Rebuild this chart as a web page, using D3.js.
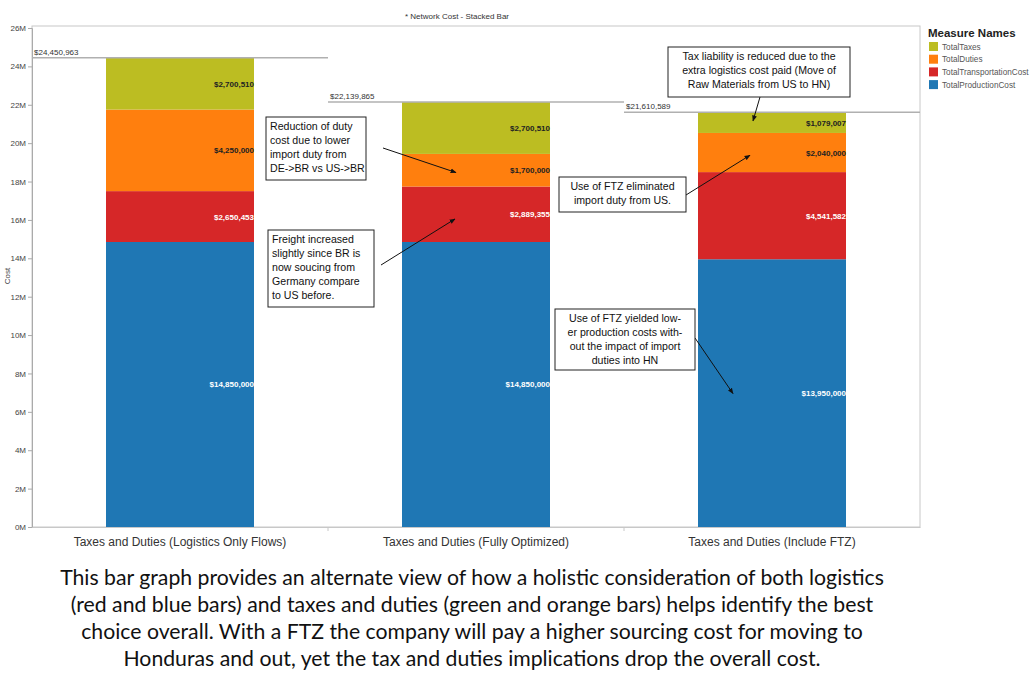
<!DOCTYPE html>
<html>
<head>
<meta charset="utf-8">
<script src="https://cdn.jsdelivr.net/npm/d3@7"></script>
<style>
  body { margin: 0; background: #fff; }
  svg { display: block; font-family: "Liberation Sans", Arial, sans-serif; }
</style>
</head>
<body>
<svg id="chart" width="1030" height="689"></svg>
<script>
// data
const categories = [
  "Taxes and Duties (Logistics Only Flows)",
  "Taxes and Duties (Fully Optimized)",
  "Taxes and Duties (Include FTZ)"
];
const measures = ["TotalProductionCost", "TotalTransportationCost", "TotalDuties", "TotalTaxes"];
const legendOrder = ["TotalTaxes", "TotalDuties", "TotalTransportationCost", "TotalProductionCost"];
const productionCost = [14850000, 14850000, 13950000];
const transportationCost = [2650453, 2889355, 4541582];
const duties = [4250000, 1700000, 2040000];
const taxes = [2700510, 2700510, 1079007];
const yTicks = [0, 2e6, 4e6, 6e6, 8e6, 10e6, 12e6, 14e6, 16e6, 18e6, 20e6, 22e6, 24e6, 26e6];
const colors = {
  TotalTaxes: "#bcbd22",
  TotalDuties: "#ff7f0e",
  TotalTransportationCost: "#d62728",
  TotalProductionCost: "#1f77b4"
};
const labelColors = {
  TotalTaxes: "#222",
  TotalDuties: "#222",
  TotalTransportationCost: "#fff",
  TotalProductionCost: "#fff"
};

const notes = [
  { lines: ["Reduction of duty", "cost due to lower", "import duty from", "DE->BR vs US->BR"],
    align: "start", box: [266, 117, 100, 63], from: [383, 148], cat: 1, value: 18.47e6, dx: -20 },
  { lines: ["Freight increased", "slightly since BR is", "now soucing from", "Germany compare", "to US before."],
    align: "start", box: [268, 230, 106, 77], from: [381, 265], cat: 1, value: 16.05e6, dx: -21 },
  { lines: ["Use of FTZ eliminated", "import duty from US."],
    align: "middle", box: [559, 177, 127, 35], from: [686, 195], cat: 2, value: 19.37e6, dx: -22 },
  { lines: ["Tax liability is reduced due to the", "extra logistics cost paid (Move of", "Raw Materials from US to HN)"],
    align: "middle", box: [668, 47, 182, 50], from: [760, 97], cat: 2, value: 21.16e6, dx: -19 },
  { lines: ["Use of FTZ yielded low-", "er production costs with-", "out the impact of import", "duties into HN"],
    align: "middle", box: [555, 309, 140, 61], from: [695, 338], cat: 2, value: 6.95e6, dx: -39 }
];

const caption = [
  "This bar graph provides an alternate view of how a holistic consideration of both logistics",
  "(red and blue bars) and taxes and duties (green and orange bars) helps identify the best",
  "choice overall. With a FTZ the company will pay a higher sourcing cost for moving to",
  "Honduras and out, yet the tax and duties implications drop the overall cost."
];

const series = {
  TotalProductionCost: productionCost,
  TotalTransportationCost: transportationCost,
  TotalDuties: duties,
  TotalTaxes: taxes
};
const rows = categories.map((c, i) => {
  const r = { category: c };
  measures.forEach(k => r[k] = series[k][i]);
  return r;
});

const svg = d3.select("#chart");
const m = { left: 32, right: 920, top: 26, bottom: 527 };

const x = d3.scaleBand().domain(categories).range([m.left, m.right]).padding(0);
const y = d3.scaleLinear().domain([0, 26e6]).range([m.bottom, 28]);
const barW = x.bandwidth() * 0.5;
const fmt = d3.format("$,");

// frame
svg.append("rect")
  .attr("x", m.left).attr("y", m.top)
  .attr("width", m.right - m.left).attr("height", m.bottom - m.top)
  .attr("fill", "none").attr("stroke", "#c8c8c8").attr("stroke-width", 1);

// title
svg.append("text")
  .attr("x", 405).attr("y", 19)
  .attr("font-size", 8).attr("fill", "#333")
  .text("* Network Cost - Stacked Bar");

// y axis
const yAxis = svg.append("g")
  .attr("transform", `translate(${m.left},0)`)
  .call(d3.axisLeft(y).tickValues(yTicks).tickSize(4).tickPadding(2)
    .tickFormat(d => (d / 1e6) + "M"));
yAxis.select(".domain").attr("stroke", "#aaa");
yAxis.selectAll(".tick line").attr("stroke", "#aaa");
yAxis.selectAll(".tick text")
  .attr("font-size", 8).attr("fill", "#444")
  .attr("font-family", "Liberation Sans, Arial, sans-serif");

svg.append("text")
  .attr("transform", "translate(10,276) rotate(-90)")
  .attr("text-anchor", "middle")
  .attr("font-size", 8).attr("fill", "#444")
  .text("Cost");

// x axis
const xAxis = svg.append("g")
  .attr("transform", `translate(0,${m.bottom})`)
  .call(d3.axisBottom(x).tickSize(0).tickPadding(10));
xAxis.select(".domain").attr("stroke", "#c8c8c8");
xAxis.selectAll(".tick text")
  .attr("font-size", 12).attr("fill", "#333")
  .attr("font-family", "Liberation Sans, Arial, sans-serif");
// band separators ticks
svg.selectAll(".sep")
  .data(categories.slice(1))
  .enter().append("line")
  .attr("x1", d => x(d)).attr("x2", d => x(d))
  .attr("y1", m.bottom).attr("y2", m.bottom + 4)
  .attr("stroke", "#c8c8c8");

// stacks
const stack = d3.stack().keys(measures)(rows);
const layers = svg.append("g").selectAll("g")
  .data(stack)
  .enter().append("g")
  .attr("fill", d => colors[d.key]);

layers.selectAll("rect")
  .data(d => d)
  .enter().append("rect")
  .attr("x", d => x(d.data.category) + (x.bandwidth() - barW) / 2)
  .attr("width", barW)
  .attr("y", d => y(d[1]))
  .attr("height", d => y(d[0]) - y(d[1]));

// segment labels
stack.forEach(layer => {
  svg.append("g").selectAll("text")
    .data(layer)
    .enter().append("text")
    .attr("x", d => x(d.data.category) + (x.bandwidth() + barW) / 2)
    .attr("y", d => (y(d[0]) + y(d[1])) / 2 + 3)
    .attr("text-anchor", "end")
    .attr("font-size", 8).attr("font-weight", "bold")
    .attr("fill", labelColors[layer.key])
    .text(d => fmt(d.data[layer.key]));
});

// total reference lines
const totals = rows.map(r => ({ category: r.category, total: d3.sum(measures, k => r[k]) }));
svg.append("g").selectAll("line")
  .data(totals)
  .enter().append("line")
  .attr("x1", d => x(d.category)).attr("x2", d => x(d.category) + x.bandwidth())
  .attr("y1", d => y(d.total)).attr("y2", d => y(d.total))
  .attr("stroke", "#b0b0b0").attr("stroke-width", 1.5);
svg.append("g").selectAll("text")
  .data(totals)
  .enter().append("text")
  .attr("x", d => x(d.category) + 2)
  .attr("y", d => y(d.total) - 3)
  .attr("font-size", 8).attr("fill", "#333")
  .text(d => fmt(d.total));

// legend
svg.append("text")
  .attr("x", 928).attr("y", 37)
  .attr("font-size", 11.5).attr("font-weight", "bold").attr("fill", "#222")
  .text("Measure Names");
const lg = svg.append("g").selectAll("g")
  .data(legendOrder)
  .enter().append("g")
  .attr("transform", (d, i) => `translate(929,${42 + i * 12.7})`);
lg.append("rect").attr("width", 9).attr("height", 9).attr("fill", d => colors[d]);
lg.append("text")
  .attr("x", 13).attr("y", 7.5)
  .attr("font-size", 8.2).attr("fill", "#555")
  .text(d => d);

// annotations
svg.append("defs").append("marker")
  .attr("id", "arrow")
  .attr("viewBox", "0 0 10 10")
  .attr("refX", 9).attr("refY", 5)
  .attr("markerWidth", 6).attr("markerHeight", 6)
  .attr("orient", "auto")
  .append("path").attr("d", "M0,1 L10,5 L0,9 Z").attr("fill", "#111");

notes.forEach(n => {
  const [bx, by, bw, bh] = n.box;
  const tx = x(categories[n.cat]) + x.bandwidth() / 2 + n.dx;
  const ty = y(n.value);
  svg.append("line")
    .attr("x1", n.from[0]).attr("y1", n.from[1])
    .attr("x2", tx).attr("y2", ty)
    .attr("stroke", "#111").attr("stroke-width", 1)
    .attr("marker-end", "url(#arrow)");
  svg.append("rect")
    .attr("x", bx).attr("y", by).attr("width", bw).attr("height", bh)
    .attr("fill", "#fff").attr("stroke", "#222").attr("stroke-width", 1);
  const t = svg.append("text")
    .attr("font-size", 10.6).attr("fill", "#111")
    .attr("text-anchor", n.align);
  n.lines.forEach((line, i) => {
    t.append("tspan")
      .attr("x", n.align === "middle" ? bx + bw / 2 : bx + 4)
      .attr("y", by + 13 + i * 14)
      .text(line);
  });
});

// caption, sized so the first line spans about 824px like the original
const cap = svg.append("g").selectAll("text")
  .data(caption)
  .enter().append("text")
  .attr("x", 472)
  .attr("y", (d, i) => 585 + i * 27)
  .attr("text-anchor", "middle")
  .attr("font-family", "Lato, sans-serif")
  .attr("font-size", 20).attr("fill", "#111")
  .text(d => d);
const w0 = cap.node().getComputedTextLength();
if (w0 > 0) cap.attr("font-size", 20 * 824 / w0);
</script>
</body>
</html>
